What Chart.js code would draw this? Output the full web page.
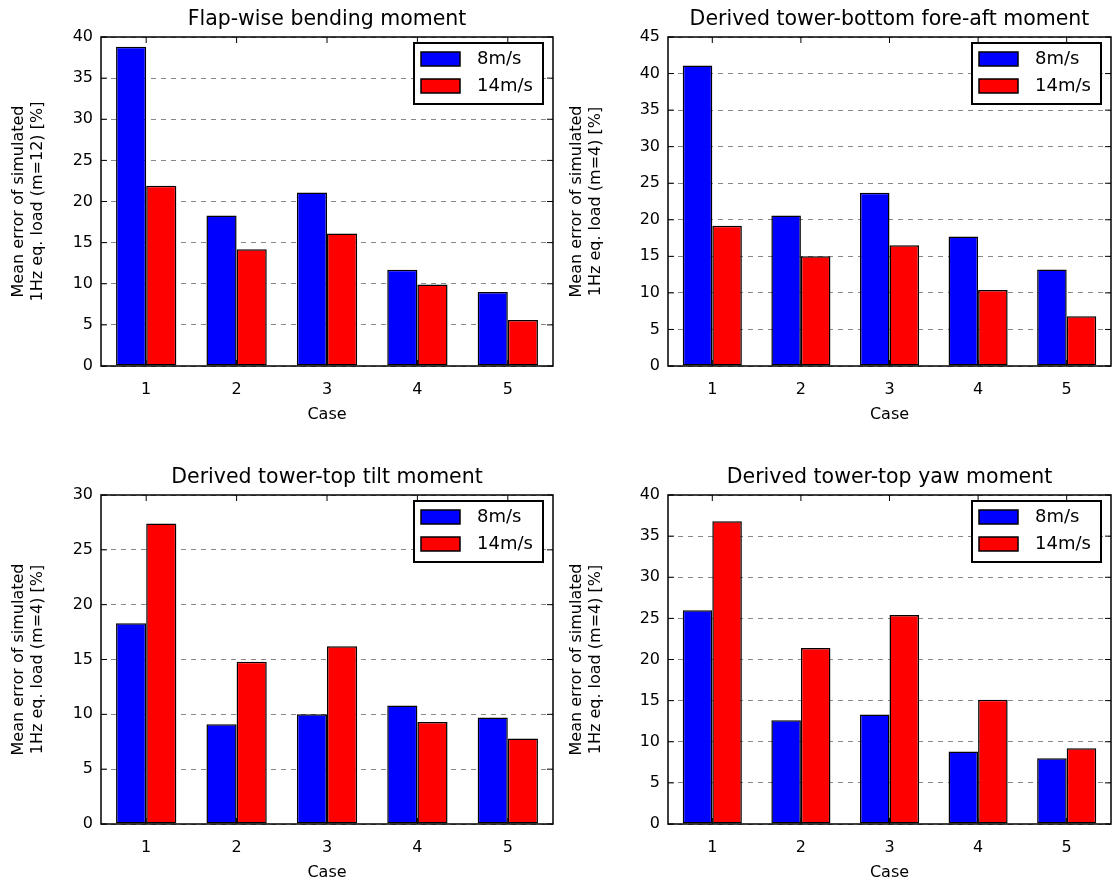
<!DOCTYPE html><html><head><meta charset="utf-8">
<script src="https://cdn.jsdelivr.net/npm/chart.js@4/dist/chart.umd.min.js"></script>
<style>body{margin:0;background:#fff;width:1117px;height:886px;position:relative;overflow:hidden}
.c{position:absolute}</style></head><body>
<div class="c" style="left:0;top:0;width:558px;height:443px"><canvas id="c0"></canvas></div>
<div class="c" style="left:558px;top:0;width:559px;height:443px"><canvas id="c1"></canvas></div>
<div class="c" style="left:0;top:443px;width:558px;height:443px"><canvas id="c2"></canvas></div>
<div class="c" style="left:558px;top:443px;width:559px;height:443px"><canvas id="c3"></canvas></div>
<script>
const cases = ['1','2','3','4','5'];
const seriesNames = ['8m/s','14m/s'];
const titles = ['Flap-wise bending moment','Derived tower-bottom fore-aft moment','Derived tower-top tilt moment','Derived tower-top yaw moment'];
const yLabels = [['Mean error of simulated','1Hz eq. load (m=12) [%]'],['Mean error of simulated','1Hz eq. load (m=4) [%]'],['Mean error of simulated','1Hz eq. load (m=4) [%]'],['Mean error of simulated','1Hz eq. load (m=4) [%]']];
const yMax = [40,45,30,40];
const blue0 = [38.8,18.3,21.1,11.7,9.0], red0 = [21.9,14.2,16.1,9.9,5.6];
const blue1 = [41.1,20.6,23.7,17.7,13.2], red1 = [19.2,15.0,16.5,10.4,6.8];
const blue2 = [18.3,9.1,10.0,10.8,9.7], red2 = [27.4,14.8,16.2,9.3,7.8];
const blue3 = [26.0,12.6,13.3,8.8,8.0], red3 = [36.8,21.4,25.4,15.1,9.2];
const blues=[blue0,blue1,blue2,blue3], reds=[red0,red1,red2,red3];
const geo = [
 {l:101,r:5,t:37,b:62,pb:15},{l:110,r:6,t:37,b:62,pb:15},{l:101,r:5,t:52,b:62,pb:0},{l:110,r:6,t:52,b:62,pb:0}];
const F='DejaVu Sans';
for(let i=0;i<4;i++){
 const g=geo[i];
 const deco={id:'deco',afterDraw(ch){const a=ch.chartArea,x=ch.ctx;x.save();
  x.strokeStyle='#000';x.lineWidth=1.5;x.strokeRect(a.left,a.top,a.right-a.left,a.bottom-a.top);
  x.fillStyle='#000';x.font='20.5px '+F;x.textAlign='center';x.textBaseline='bottom';
  x.fillText(titles[i],(a.left+a.right)/2,a.top-7);
  x.lineWidth=1;const ys=ch.scales.y,xs=ch.scales.x;
  ys.ticks.forEach(t=>{const yy=ys.getPixelForValue(t.value);x.beginPath();x.moveTo(a.left,yy);x.lineTo(a.left+6,yy);x.moveTo(a.right,yy);x.lineTo(a.right-6,yy);x.stroke();});
  cases.forEach((c,k)=>{const xx=xs.getPixelForValue(k);x.beginPath();x.moveTo(xx,a.bottom);x.lineTo(xx,a.bottom-6);x.moveTo(xx,a.top);x.lineTo(xx,a.top+6);x.stroke();});
  const w=129,h=61,lx=a.right-w-10,ly=a.top+6;
  x.fillStyle='#fff';x.fillRect(lx,ly,w,h);x.lineWidth=2;x.strokeRect(lx,ly,w,h);
  const cols=['#0000ff','#ff0000'];
  x.font='18px '+F;x.textAlign='left';x.textBaseline='middle';
  for(let k=0;k<2;k++){const yy=ly+16+k*27;x.fillStyle=cols[k];x.fillRect(lx+7,yy-7,39,14);x.lineWidth=1.5;x.strokeStyle='#000';x.strokeRect(lx+7,yy-7,39,14);
   x.fillStyle='#000';x.fillText(seriesNames[k],lx+63,yy);}
  x.restore();}};
 const ds=(lab,d,c)=>({label:lab,data:d,backgroundColor:c,borderColor:'#000',borderWidth:1.5,borderSkipped:false,categoryPercentage:0.667,barPercentage:1});
 new Chart(document.getElementById('c'+i),{type:'bar',
  data:{labels:cases,datasets:[ds(seriesNames[0],blues[i],'#0000ff'),ds(seriesNames[1],reds[i],'#ff0000')]},
  options:{responsive:true,maintainAspectRatio:false,animation:false,
   layout:{padding:{top:g.t,right:g.r,left:0,bottom:g.pb}},
   plugins:{legend:{display:false},tooltip:{enabled:false}},
   scales:{
    x:{grid:{display:false},border:{display:false},ticks:{color:'#000',font:{family:F,size:16},padding:6},
       title:{display:true,text:'Case',color:'#000',font:{family:F,size:16},padding:{top:8}},
       afterFit(s){s.height=g.b;}},
    y:{min:0,max:yMax[i],ticks:{stepSize:5,color:'#000',font:{family:F,size:16},padding:8},
       grid:{color:'#888',drawTicks:false},border:{display:false,dash:[5,5]},
       title:{display:true,text:yLabels[i],color:'#000',font:{family:F,size:16,lineHeight:1.15},padding:{top:10,bottom:4}},
       afterFit(s){s.width=g.l;}}}},
  plugins:[deco]});
}
</script></body></html>
